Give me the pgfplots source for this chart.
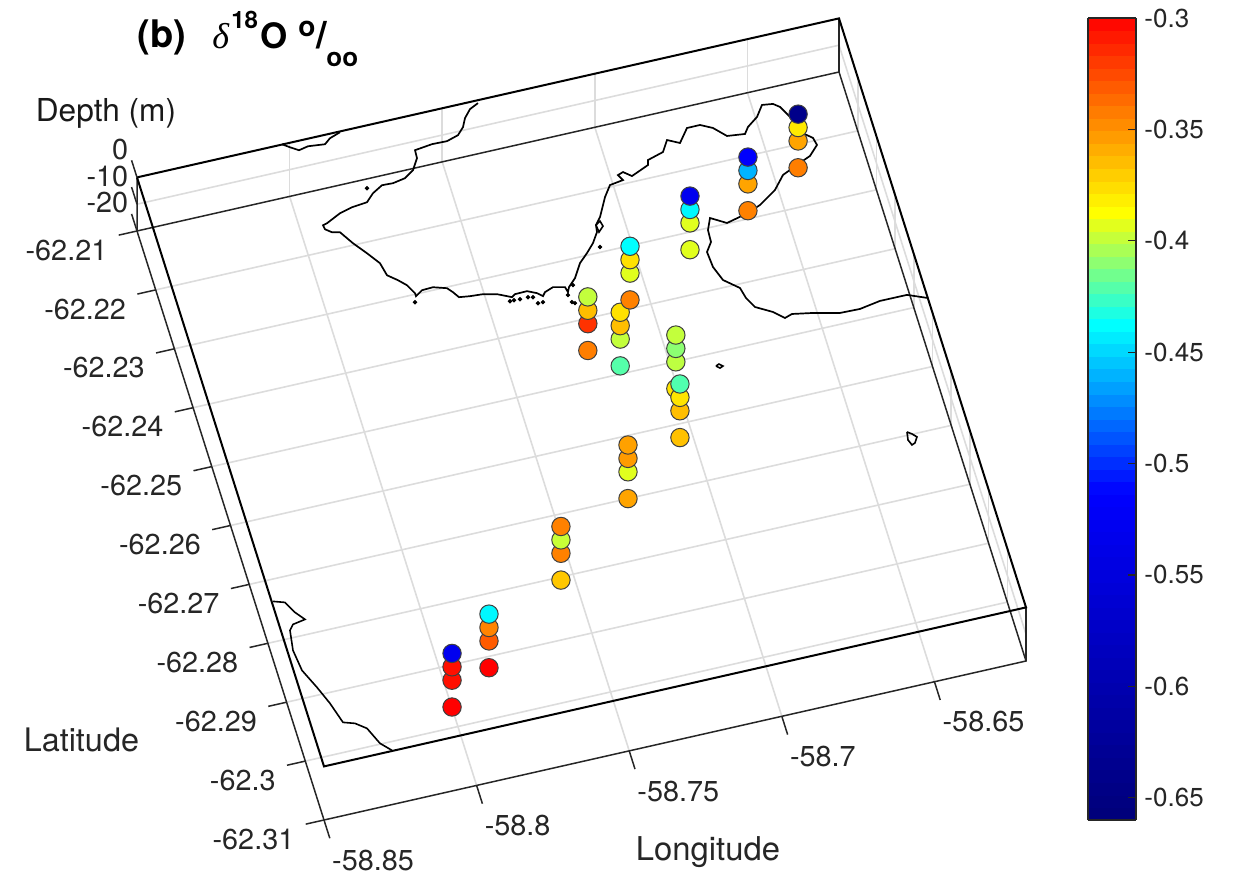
\documentclass[border=0pt]{standalone}
\usepackage{fontspec}
\setmainfont{TeX Gyre Heros}
\newfontfamily\serifit[ItalicFont=Liberation Serif Italic]{Liberation Serif}
\usepackage{pgfplots}
\pgfplotsset{compat=1.18}
\definecolor{txt}{gray}{0.15}
\definecolor{gridc}{RGB}{220,220,220}
\pgfplotsset{
  colormap={obs}{rgb255(0)=(0,0,120) rgb255(408)=(0,0,255) rgb255(617)=(0,255,255) rgb255(758)=(255,255,0) rgb255(1000)=(255,0,0)},
}
\def\clon{-58.85+0.00030572*(\thisrow{px}-324)-0.00009706*(\thisrow{py}-766)}
\def\clat{-62.31-0.00015843*(\thisrow{py}-766)-0.00003577*(\thisrow{px}-324)}
\tikzset{
  ticklab/.style={font=\fontsize{14.4}{15}\selectfont, text=txt, inner sep=0pt},
  title/.style={inner sep=0pt, anchor=base west},
}
\begin{document}
\begin{tikzpicture}
\useasboundingbox (0,0) rectangle (618pt,439pt);
\begin{axis}[
  at={(68.5pt,29pt)}, anchor=south west,
  hide axis, clip=false,
  x={(1526.1pt,345.65pt)}, y={(-935pt,2945pt)}, z={(0pt,1.34pt)},
  xmin=-58.85, xmax=-58.62, ymin=-62.31, ymax=-62.21, zmin=-20, zmax=0,
  colormap name=obs, point meta min=-0.66, point meta max=-0.3,
]
% grid: floor
\pgfplotsinvokeforeach{-62.30,-62.29,-62.28,-62.27,-62.26,-62.25,-62.24,-62.23,-62.22}{
  \addplot3[gridc, line width=0.8pt, forget plot] coordinates {(-58.85,#1,-20) (-58.62,#1,-20)};
  \addplot3[gridc, line width=0.8pt, forget plot] coordinates {(-58.62,#1,-20) (-58.62,#1,0)};
}
\pgfplotsinvokeforeach{-58.80,-58.75,-58.70,-58.65}{
  \addplot3[gridc, line width=0.8pt, forget plot] coordinates {(#1,-62.31,-20) (#1,-62.21,-20)};
  \addplot3[gridc, line width=0.8pt, forget plot] coordinates {(#1,-62.21,-20) (#1,-62.21,0)};
}
\addplot3[gridc, line width=0.8pt, forget plot] coordinates {(-58.85,-62.21,-10) (-58.62,-62.21,-10) (-58.62,-62.31,-10)};
% box, floor and verticals
\addplot3[black!85, line width=0.75pt, forget plot] coordinates {(-58.85,-62.21,0) (-58.85,-62.21,-20) (-58.62,-62.21,-20) (-58.62,-62.31,-20) (-58.85,-62.31,-20) (-58.85,-62.21,-20)};
\addplot3[black!85, line width=0.75pt, forget plot] coordinates {(-58.62,-62.21,0) (-58.62,-62.21,-20)};
\addplot3[black!85, line width=0.75pt, forget plot] coordinates {(-58.62,-62.31,0) (-58.62,-62.31,-20)};
% box, z = 0 plane
\addplot3[black, line width=1pt, forget plot] coordinates {(-58.85,-62.21,0) (-58.62,-62.21,0) (-58.62,-62.31,0) (-58.85,-62.31,0) (-58.85,-62.21,0)};
% ticks
\pgfplotsinvokeforeach{-62.31,-62.30,-62.29,-62.28,-62.27,-62.26,-62.25,-62.24,-62.23,-62.22,-62.21}{
  \addplot3[black!85, line width=0.75pt, forget plot] coordinates {(-58.85,#1,-20) (-58.856,#1,-20)};
}
\pgfplotsinvokeforeach{-58.85,-58.80,-58.75,-58.70,-58.65}{
  \addplot3[black!85, line width=0.75pt, forget plot] coordinates {(#1,-62.31,-20) (#1,-62.3131,-20)};
}
\pgfplotsinvokeforeach{0,-10,-20}{
  \addplot3[black!85, line width=0.75pt, forget plot] coordinates {(-58.85,-62.21,#1) (-58.85,-62.2071,#1)};
}
% stations: lon lat depth d18O
\addplot3[scatter, only marks, mark=*, mark size=4.6pt, scatter src=explicit,
  scatter/use mapped color={draw=black!75, fill=mapped color},
  mark options={line width=0.5pt}, forget plot]
 table[x=lon, y=lat, z=dep, meta=val] {
lon lat dep val
-58.7999 -62.2967 -20 -0.300
-58.7999 -62.2967 -10 -0.305
-58.7999 -62.2967 -5 -0.305
-58.7999 -62.2967 0 -0.530
-58.7848 -62.2918 -20 -0.300
-58.7848 -62.2918 -10 -0.331
-58.7848 -62.2918 -5 -0.345
-58.7848 -62.2918 0 -0.440
-58.7543 -62.2805 -20 -0.368
-58.7543 -62.2805 -10 -0.344
-58.7543 -62.2805 -5 -0.398
-58.7543 -62.2805 0 -0.344
-58.7259 -62.2700 -20 -0.356
-58.7259 -62.2700 -10 -0.393
-58.7259 -62.2700 -5 -0.353
-58.7259 -62.2700 0 -0.355
-58.7006 -62.2543 -20 -0.378
-58.7006 -62.2543 -10 -0.400
-58.7006 -62.2543 -5 -0.410
-58.7006 -62.2543 0 -0.399
-58.7041 -62.2622 -20 -0.366
-58.7041 -62.2622 -10 -0.365
-58.7041 -62.2622 -5 -0.378
-58.7041 -62.2622 0 -0.422
-58.7154 -62.2487 -20 -0.421
-58.7154 -62.2487 -10 -0.399
-58.7154 -62.2487 -5 -0.365
-58.7154 -62.2487 0 -0.377
-58.7060 -62.2386 -20 -0.344
-58.7060 -62.2386 -10 -0.393
-58.7060 -62.2386 -5 -0.377
-58.7060 -62.2386 0 -0.438
-58.7238 -62.2451 -20 -0.343
-58.7238 -62.2451 -10 -0.317
-58.7238 -62.2451 -5 -0.365
-58.7238 -62.2451 0 -0.399
-58.6828 -62.2328 -20 -0.393
-58.6828 -62.2328 -10 -0.393
-58.6828 -62.2328 -5 -0.440
-58.6828 -62.2328 0 -0.530
-58.6613 -62.2287 -20 -0.344
-58.6613 -62.2287 -10 -0.356
-58.6613 -62.2287 -5 -0.460
-58.6613 -62.2287 0 -0.515
-58.6418 -62.2237 -20 -0.343
-58.6418 -62.2237 -10 -0.356
-58.6418 -62.2237 -5 -0.380
-58.6418 -62.2237 0 -0.640
};
% coastlines on the z = 0 plane, digitised
\addplot3[black, line width=0.85pt, forget plot] table[x expr={\clon}, y expr={\clat}, z expr=0] {
px py
282 144
290 147
299 150
308 146
325 144
330 138
340 132
};
\addplot3[black, line width=0.85pt, forget plot] table[x expr={\clon}, y expr={\clat}, z expr=0] {
px py
478 103
470 109
465 118
463 127
458 135
447 141
432 144
415 150
417 158
413 170
405 178
393 183
382 185
373 193
367 202
352 207
340 213
327 223
323 225
325 229
332 232
340 232
353 243
367 253
380 263
387 275
398 280
407 285
415 293
416 296
422 290
433 287
447 288
453 292
459 297
470 296
483 294
497 294
512 297
515 294
527 291
537 293
543 296
545 292
553 287
565 287
568 292
569 287
575 278
580 263
587 253
593 243
597 232
596 225
600 217
605 197
610 185
623 180
618 175
623 172
632 176
648 165
648 160
663 152
667 140
680 143
687 128
700 125
713 128
727 136
745 134
748 127
757 117
762 105
773 104
780 107
790 117
798 124
800 132
813 138
817 145
810 156
797 165
783 175
775 190
760 205
748 213
727 223
710 218
708 230
711 242
707 252
713 267
723 280
740 288
746 298
755 307
773 312
785 318
792 314
813 313
840 313
860 309
880 301
907 295
927 298
};
\addplot3[black, line width=0.8pt, forget plot] table[x expr={\clon}, y expr={\clat}, z expr=0] {
px py
273 601
285 602
295 612
305 619
293 624
290 630
293 650
302 670
317 687
330 703
343 722
355 723
367 728
380 743
392 750
};
\addplot3[black, line width=0.8pt, forget plot] table[x expr={\clon}, y expr={\clat}, z expr=0] {
px py
716 366
719 364
723 366
720 368
716 366
};
\addplot3[black, line width=0.8pt, forget plot] table[x expr={\clon}, y expr={\clat}, z expr=0] {
px py
907 432
912 434
917 437
915 443
912 445
908 440
907 432
};
\addplot3[black, line width=0.8pt, forget plot] table[x expr={\clon}, y expr={\clat}, z expr=0] {
px py
596 225
600 221
603 226
599 232
596 225
};
\addplot3[only marks, mark=*, mark size=0.9pt, black, forget plot] table[x expr={\clon}, y expr={\clat}, z expr=0] {
px py
367 188
415 302
510 301
514 300
520 299
528 297
533 297
538 303
543 302
568 295
572 302
575 303
600 247
573 285
};
% tick labels
\pgfplotsinvokeforeach{-62.31,-62.3,-62.29,-62.28,-62.27,-62.26,-62.25,-62.24,-62.23,-62.22,-62.21}{
  \node[ticklab, anchor=east, xshift=-5.5pt, yshift=-7.5pt] at (axis cs:-58.856,#1,-20) {#1};
}
\pgfplotsinvokeforeach{-58.85,-58.8,-58.75,-58.7,-58.65}{
  \node[ticklab, anchor=west, xshift=1pt, yshift=-11pt] at (axis cs:#1,-62.3131,-20) {#1};
}
\pgfplotsinvokeforeach{0,-10,-20}{
  \node[ticklab, anchor=east, xshift=-1.5pt, yshift=5.5pt] at (axis cs:-58.85,-62.2071,#1) {#1};
}
\end{axis}
% colour bar
\begin{scope}[shift={(535.5pt,29pt)}]
\pgfplotscolorbardrawstandalone[
  colormap name=obs, point meta min=-0.66, point meta max=-0.3,
  colorbar sampled,
  colorbar style={samples=65, at={(0,0)}, anchor=south west, width=24pt, height=401pt,
    scale only axis,
    ytick={-0.65,-0.6,-0.55,-0.5,-0.45,-0.4,-0.35,-0.3},
    yticklabels={-0.65,-0.6,-0.55,-0.5,-0.45,-0.4,-0.35,-0.3},
    yticklabel style={font=\fontsize{13}{14}\selectfont, text=txt, inner sep=0pt, xshift=4pt},
    yticklabel pos=right, ytick pos=right, tick align=inside, major tick length=4pt,
    axis line style={black!85, line width=0.9pt}, every tick/.style={black!85, line width=0.6pt},
  },
]
\end{scope}
% axis names and title
\node[font=\fontsize{15.8}{16}\selectfont, inner sep=0pt, text=black!90] at (53pt,382.5pt) {Depth (m)};
\node[font=\fontsize{16.2}{16}\selectfont, inner sep=0pt, text=txt] at (40.7pt,69pt) {Latitude};
\node[font=\fontsize{16.4}{16}\selectfont, inner sep=0pt, text=txt] at (354pt,13pt) {Longitude};
\node[title, font=\fontsize{19}{18}\selectfont\bfseries] at (68.5pt,415pt) {(b)};
\node[title, font=\fontsize{18}{18}\selectfont\serifit\itshape] at (106pt,414.5pt) {δ};
\node[title, font=\fontsize{12}{12}\selectfont\bfseries] at (115.5pt,424.5pt) {18};
\node[title, font=\fontsize{17.5}{18}\selectfont\bfseries] at (130pt,414.5pt) {O};
\node[title, font=\fontsize{14}{14}\selectfont\bfseries] at (149pt,420.5pt) {o};
\node[title, font=\fontsize{19}{18}\selectfont\bfseries] at (158pt,414.5pt) {/};
\node[title, font=\fontsize{13}{13}\selectfont\bfseries] at (163pt,405.5pt) {oo};
\end{tikzpicture}
\end{document}
